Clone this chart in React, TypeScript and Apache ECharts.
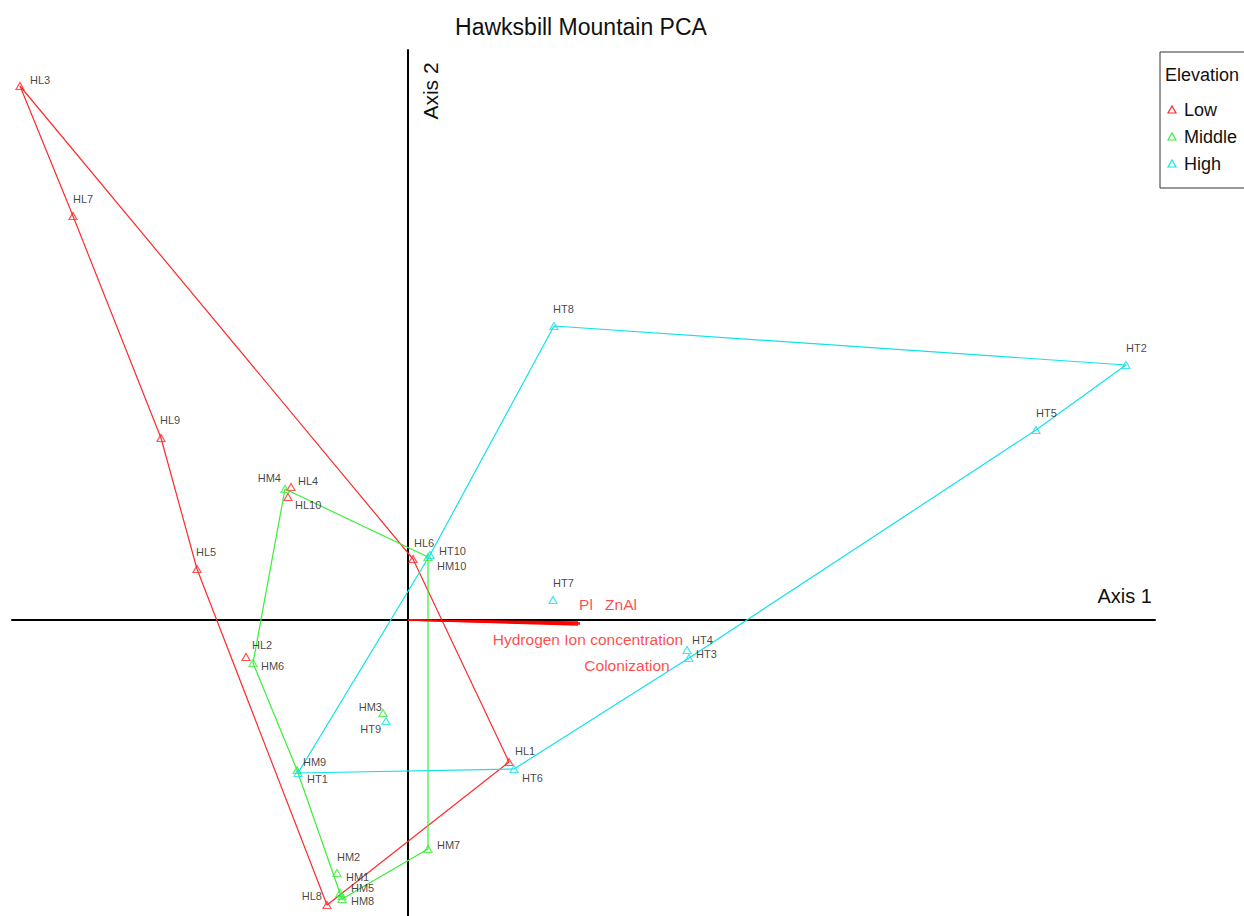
import React, { useEffect, useRef } from "react";
import * as echarts from "echarts";

// PCA site scores (Axis 1, Axis 2) grouped by elevation
const lowNames = ["HL1", "HL2", "HL3", "HL4", "HL5", "HL6", "HL7", "HL8", "HL9", "HL10"];
const lowX = [1.01, -1.62, -3.88, -1.17, -2.11, 0.05, -3.35, -0.81, -2.47, -1.2];
const lowY = [-1.42, -0.37, 5.34, 1.33, 0.51, 0.61, 4.04, -2.85, 1.82, 1.23];

const midNames = ["HM1", "HM2", "HM3", "HM4", "HM5", "HM6", "HM7", "HM8", "HM9", "HM10"];
const midX = [-0.68, -0.71, -0.25, -1.23, -0.66, -1.55, 0.2, -0.66, -1.11, 0.2];
const midY = [-2.73, -2.53, -0.93, 1.31, -2.76, -0.43, -2.29, -2.79, -1.5, 0.63];

const highNames = ["HT1", "HT2", "HT3", "HT4", "HT5", "HT6", "HT7", "HT8", "HT9", "HT10"];
const highX = [-1.1, 7.18, 2.81, 2.79, 6.28, 1.06, 1.45, 1.46, -0.22, 0.22];
const highY = [-1.53, 2.55, -0.38, -0.3, 1.9, -1.49, 0.2, 2.94, -1.01, 0.65];

// Hull outlines (site order around each group)
const lowHull = ["HL3", "HL6", "HL1", "HL8", "HL5", "HL9", "HL7", "HL3"];
const midHull = ["HM4", "HM10", "HM7", "HM8", "HM9", "HM6", "HM4"];
const highHull = ["HT8", "HT2", "HT5", "HT3", "HT6", "HT1", "HT10", "HT8"];

// Environmental vectors (arrow tips) and their label anchors
const vectorNames = ["Pl", "ZnAl", "Hydrogen Ion concentration", "Colonization"];
const vectorX = [1.7, 1.72, 1.72, 1.7];
const vectorY = [-0.02, -0.03, -0.04, -0.05];
const vectorLabelX = [1.78, 2.13, 1.8, 2.19];
const vectorLabelY = [0.16, 0.16, -0.19, -0.45];

const groupNames = ["Low", "Middle", "High"];
const groupColors = ["#ff2a2a", "#3aee3a", "#12e2ea"];

// Label placement per site: [dx, dy, align]
const labelOffsets: Record<string, [number, number, string]> = {
  HL3: [10, -6, "left"], HL7: [0, -17, "left"], HL9: [-1, -18, "left"], HL5: [-1, -17, "left"],
  HL4: [7, -6, "left"], HL10: [7, 8, "left"], HL6: [1, -16, "left"], HL2: [6, -12, "left"],
  HL1: [6, -11, "left"], HL8: [-5, -9, "right"],
  HM4: [-4, -11, "right"], HM10: [9, 9, "left"], HM6: [8, 3, "left"], HM3: [-1, -6, "right"],
  HM9: [6, -8, "left"], HM7: [9, -4, "left"], HM2: [0, -16, "left"], HM1: [6, -16, "left"],
  HM5: [9, -8, "left"], HM8: [9, 2, "left"],
  HT8: [-1, -17, "left"], HT2: [0, -17, "left"], HT5: [0, -17, "left"], HT10: [9, -4, "left"],
  HT7: [0, -17, "left"], HT4: [5, -10, "left"], HT3: [7, -4, "left"], HT9: [-5, 8, "right"],
  HT1: [9, 6, "left"], HT6: [8, 9, "left"],
};

const FONT = "'Liberation Sans', Arial, sans-serif";

function pointsOf(names: string[], xs: number[], ys: number[]) {
  return names.map((n, i) => {
    const [dx, dy, align] = labelOffsets[n] || [8, -8, "left"];
    return {
      name: n,
      value: [xs[i], ys[i]],
      label: { offset: [dx, dy], align },
    };
  });
}

function hullOf(order: string[], names: string[], xs: number[], ys: number[]) {
  return order.map((n) => {
    const i = names.indexOf(n);
    return [xs[i], ys[i]];
  });
}

export default function App() {
  const ref = useRef<HTMLDivElement>(null);

  useEffect(() => {
    if (!ref.current) return;
    const chart = echarts.init(ref.current, undefined, { renderer: "svg" });

    const groups = [
      { names: lowNames, xs: lowX, ys: lowY, hull: lowHull },
      { names: midNames, xs: midX, ys: midY, hull: midHull },
      { names: highNames, xs: highX, ys: highY, hull: highHull },
    ];

    const series: any[] = [];
    groups.forEach((g, gi) => {
      series.push({
        type: "line",
        name: groupNames[gi] + " hull",
        data: hullOf(g.hull, g.names, g.xs, g.ys),
        symbol: "none",
        lineStyle: { color: groupColors[gi], width: 1.2 },
        z: 2,
        silent: true,
      });
    });
    groups.forEach((g, gi) => {
      series.push({
        type: "scatter",
        name: groupNames[gi],
        data: pointsOf(g.names, g.xs, g.ys),
        symbol: "triangle",
        symbolSize: [8, 7],
        itemStyle: { color: "rgba(0,0,0,0)", borderColor: groupColors[gi], borderWidth: 1.2 },
        label: {
          show: true,
          position: "inside",
          formatter: "{b}",
          color: "#111",
          fontSize: 11,
          fontFamily: FONT,
          verticalAlign: "middle",
        },
        z: 3,
      });
    });

    vectorNames.forEach((n, i) => {
      series.push({
        type: "line",
        name: n + " vector",
        data: [
          [0, 0],
          [vectorX[i], vectorY[i]],
        ],
        symbol: "none",
        lineStyle: { color: "#ff0000", width: 1.6 },
        z: 4,
        silent: true,
      });
    });

    series.push({
      type: "scatter",
      name: "vector labels",
      data: vectorNames.map((n, i) => ({ name: n, value: [vectorLabelX[i], vectorLabelY[i]] })),
      symbolSize: 0,
      label: {
        show: true,
        position: "inside",
        formatter: "{b}",
        color: "#ff1a1a",
        fontSize: 15.5,
        fontFamily: FONT,
        align: "center",
        verticalAlign: "middle",
      },
      z: 5,
      silent: true,
    });

    const legendItems: any[] = [];
    groupNames.forEach((n, i) => {
      const cy = 110 + i * 27;
      legendItems.push({
        type: "polygon",
        shape: { points: [[1172, cy - 4], [1168, cy + 3], [1176, cy + 3]] },
        style: { fill: "none", stroke: groupColors[i], lineWidth: 1.2 },
      });
      legendItems.push({
        type: "text",
        x: 1184,
        y: cy,
        style: { text: n, fontSize: 18, fontFamily: FONT, fill: "#111", verticalAlign: "middle" },
      });
    });

    chart.setOption({
      animation: false,
      backgroundColor: "#ffffff",
      grid: { left: 12, right: 89, top: 50, bottom: 0, containLabel: false },
      xAxis: {
        type: "value",
        min: -3.96,
        max: 7.47,
        axisLine: { onZero: true, lineStyle: { color: "#000", width: 2 } },
        axisTick: { show: false },
        axisLabel: { show: false },
        splitLine: { show: false },
      },
      yAxis: {
        type: "value",
        min: -2.96,
        max: 5.7,
        axisLine: { onZero: true, lineStyle: { color: "#000", width: 2 } },
        axisTick: { show: false },
        axisLabel: { show: false },
        splitLine: { show: false },
      },
      graphic: [
        {
          type: "text",
          x: 581,
          y: 27,
          style: {
            text: "Hawksbill Mountain PCA",
            fontSize: 23,
            fontFamily: FONT,
            fill: "#111",
            align: "center",
            verticalAlign: "middle",
          },
        },
        {
          type: "text",
          x: 1152,
          y: 596,
          style: {
            text: "Axis 1",
            fontSize: 20,
            fontFamily: FONT,
            fill: "#111",
            align: "right",
            verticalAlign: "middle",
          },
        },
        {
          type: "text",
          x: 430,
          y: 91,
          rotation: Math.PI / 2,
          style: {
            text: "Axis 2",
            fontSize: 21,
            fontFamily: FONT,
            fill: "#111",
            align: "center",
            verticalAlign: "middle",
          },
        },
        {
          type: "rect",
          shape: { x: 1160, y: 52, width: 100, height: 136 },
          style: { fill: "#fff", stroke: "#333", lineWidth: 1 },
        },
        {
          type: "text",
          x: 1165,
          y: 75,
          style: { text: "Elevation", fontSize: 18, fontFamily: FONT, fill: "#111", verticalAlign: "middle" },
        },
        ...legendItems,
      ],
      series,
    });

    return () => chart.dispose();
  }, []);

  return (
    <div
      ref={ref}
      style={{ position: "absolute", left: 0, top: 0, width: 1244, height: 916, background: "#fff" }}
    />
  );
}
